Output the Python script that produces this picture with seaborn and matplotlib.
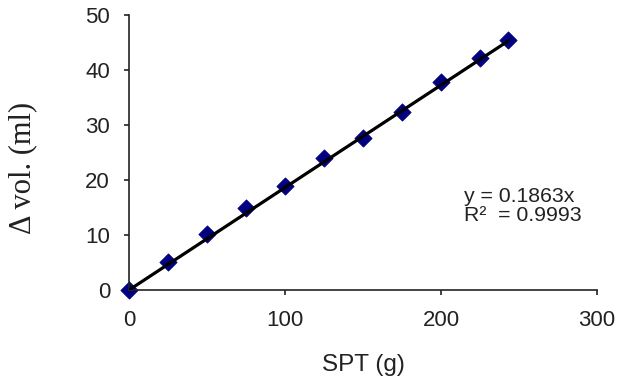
import matplotlib
matplotlib.use("Agg")
import matplotlib.pyplot as plt
import numpy as np
import pandas as pd
import seaborn as sns

# SPT mass added (g) and the resulting volume change (ml)
spt_g = [0, 25, 50, 75, 100, 125, 150, 175, 200, 225, 243]
dvol_ml = [0, 5.1, 10.2, 15.0, 19.0, 24.0, 27.7, 32.3, 37.8, 42.2, 45.4]

# Linear fit through the origin
slope = 0.1863
r_squared = 0.9993

x_ticks = [0, 100, 200, 300]
y_ticks = [0, 10, 20, 30, 40, 50]

sns.set_theme(style="ticks")
plt.rcParams["font.family"] = ["Liberation Sans", "DejaVu Sans"]

df = pd.DataFrame({"spt": spt_g, "dvol": dvol_ml})
fit_x = np.array([0, max(spt_g)])
fit_df = pd.DataFrame({"spt": fit_x, "dvol": slope * fit_x})

fig = plt.figure(figsize=(6.19, 3.79), dpi=100)
ax = fig.add_axes([0.2084, 0.2348, 0.7561, 0.7256])

sns.lineplot(data=fit_df, x="spt", y="dvol", ax=ax, color="black",
             linewidth=2.3, zorder=3)
sns.scatterplot(data=df, x="spt", y="dvol", ax=ax, marker="D", s=78,
                color="#000080", edgecolor="#000080", linewidth=0.5,
                zorder=2, clip_on=False)

ax.set_xlim(0, 300)
ax.set_ylim(0, 50)
ax.set_xticks(x_ticks)
ax.set_yticks(y_ticks)
ax.tick_params(axis="both", labelsize=16, length=3.6, width=1.2,
               color="#222222", labelcolor="#222222")
ax.tick_params(axis="x", pad=11)
ax.tick_params(axis="y", pad=10)

for side in ("top", "right"):
    ax.spines[side].set_visible(False)
for side in ("left", "bottom"):
    ax.spines[side].set_linewidth(1.2)
    ax.spines[side].set_color("#222222")

ax.set_xlabel("SPT (g)", fontsize=17.5, color="#222222")
ax.xaxis.set_label_coords(0.5, -0.232)
ax.set_ylabel("\u0394 vol. (ml)", fontsize=22, color="#222222",
              family=["Liberation Serif", "DejaVu Serif"])
ax.yaxis.set_label_coords(-0.196, 0.444)

ax.text(215, 16.0, f"y = {slope}x", fontsize=15.3, color="#222222",
        ha="left", va="baseline")
ax.text(215, 12.6, f"R\u00b2  = {r_squared}", fontsize=15.3, color="#222222",
        ha="left", va="baseline")

fig.savefig("out.png", dpi=100)
